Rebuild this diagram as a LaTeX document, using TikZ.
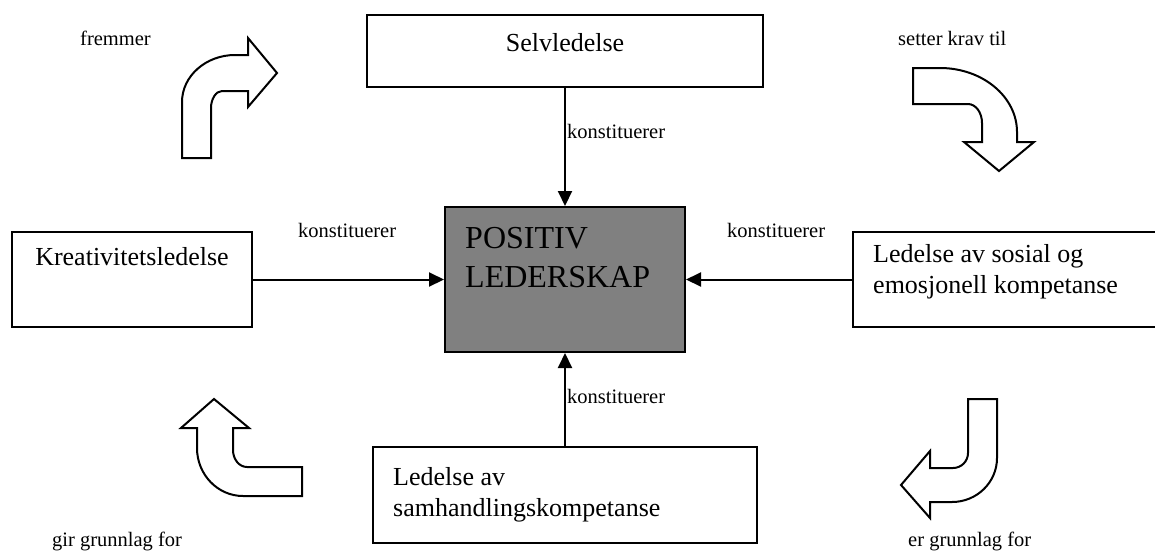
\documentclass[tikz,border=0pt]{standalone}
\usepackage{fontspec}
\setmainfont{Liberation Serif}
\usetikzlibrary{arrows.meta}
\begin{document}
\begin{tikzpicture}[x=1pt,y=-1pt,
  box/.style={draw,line width=2pt,inner sep=0pt},
  body/.style={inner sep=0pt,font=\fontsize{26}{31}\selectfont},
  lbl/.style={inner sep=0pt,anchor=base west,font=\fontsize{20.5}{24}\selectfont},
  link/.style={line width=2pt,-{Triangle[length=15pt,width=14pt]}},
  bent/.style={draw,line width=2pt,fill=white,line join=miter}]
\useasboundingbox (0,0) rectangle (1155,552);
\clip (0,0) rectangle (1155,552);

% boxes
\node[box,minimum width=396pt,minimum height=72pt] (selv) at (565,51) {};
\node[box,fill=black!50,minimum width=240pt,minimum height=145pt] (pos) at (565,279.5) {};
\node[box,minimum width=240pt,minimum height=95pt] (krea) at (132,279.5) {};
\node[box,minimum width=312pt,minimum height=95pt] (sos) at (1009,279.5) {};
\node[box,minimum width=384pt,minimum height=96pt] (samh) at (565,495) {};

% box texts (multi-line nodes are placed by the baseline of their last line)
\node[body,anchor=base] (tselv) at (565,51) {Selvledelse};
\node[body,anchor=base] (tkrea) at (132,265) {Kreativitetsledelse};
\node[inner sep=0pt,anchor=base west,align=left,font=\fontsize{32}{39}\selectfont] (tpos) at (465,287) {POSITIV\\LEDERSKAP};
\node[body,anchor=base west,align=left] (tsos) at (873,293) {Ledelse av sosial og\\emosjonell kompetanse};
\node[body,anchor=base west,align=left] (tsamh) at (393,516) {Ledelse av\\samhandlingskompetanse};

% connectors
\draw[link] (selv.south) -- (pos.north);
\draw[link] (krea.east) -- (pos.west);
\draw[link] (sos.west) -- (pos.east);
\draw[link] (samh.north) -- (pos.south);

% connector labels
\node[lbl] (k1) at (567,138) {konstituerer};
\node[lbl] (k2) at (298,237) {konstituerer};
\node[lbl] (k3) at (727,237) {konstituerer};
\node[lbl] (k4) at (567,403) {konstituerer};

% bent block arrows
\path[bent] (182,158) -- (182,102) .. controls (182,76) and (206,55) .. (235,55)
  -- (248,55) -- (248,38) -- (277,73) -- (248,107) -- (248,91) -- (222,91)
  .. controls (216,91) and (211,99) .. (211,108) -- (211,158) -- cycle;
\path[bent] (913,68) -- (940,68) .. controls (982.5,68) and (1017,96.7) .. (1017,132)
  -- (1017,142) -- (1034,142) -- (999,171) -- (964,142) -- (982,142) -- (982,123)
  .. controls (982,112.5) and (975.7,104) .. (968,104) -- (913,104) -- cycle;
\path[bent] (968,399) -- (997,399) -- (997,458) .. controls (997,482.3) and (976.8,502) .. (952,502)
  -- (930,502) -- (930,518) -- (901,485) -- (930,451) -- (930,468) -- (953,468)
  .. controls (961.3,468) and (968,461.3) .. (968,453) -- cycle;
\path[bent] (214,399) -- (249,428) -- (233,428) -- (233,450)
  .. controls (233,459.4) and (239.3,467) .. (247,467) -- (302,467) -- (302,496) -- (243,496)
  .. controls (217.6,496) and (197,474.5) .. (197,448) -- (197,428) -- (181,428) -- cycle;

% arrow labels
\node[lbl] (l1) at (80,45) {fremmer};
\node[lbl] (l2) at (898,45) {setter krav til};
\node[lbl] (l3) at (52,546) {gir grunnlag for};
\node[lbl] (l4) at (908,546) {er grunnlag for};
\end{tikzpicture}
\end{document}
